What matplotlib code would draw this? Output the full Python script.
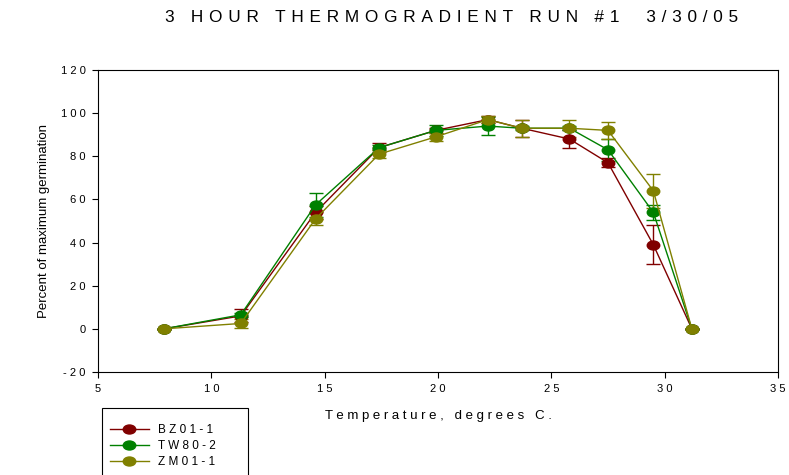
import numpy as np
import matplotlib
matplotlib.use("Agg")
import matplotlib.pyplot as plt
from matplotlib.path import Path
from matplotlib.lines import Line2D
from matplotlib.patches import Rectangle

plt.rcParams['font.family'] = ['Liberation Sans', 'DejaVu Sans']

# temperatures (deg C) and % of maximum germination
temps = [7.9, 11.3, 14.6, 17.4, 19.9, 22.2, 23.7, 25.8, 27.5, 29.5, 31.2]

bz01 = [0, 6, 54, 84, 92, 97, 93, 88, 77, 39, 0]
bz01_err = [0, 3, 3, 2, 1, 1.5, 4, 4, 2, 9, 0]

tw80 = [0, 6.5, 57.5, 84, 92, 94, 93, 93, 83, 54, 0]
tw80_err = [0, 1, 5.5, 1, 2.5, 4, 1, 1, 5, 3.5, 0]

zm01 = [0, 2.5, 51, 81, 89, 97, 93, 93, 92, 64, 0]
zm01_err = [0, 2, 3, 2, 2, 1.5, 4, 4, 4, 8, 0]

series_names = ['BZ01-1', 'TW80-2', 'ZM01-1']
colors = ['#800000', '#008000', '#808000']

xticks = [5, 10, 15, 20, 25, 30, 35]
yticks = [-20, 0, 20, 40, 60, 80, 100, 120]


def spaced(s, sep=' '):
    # the original uses wide letter spacing everywhere
    return sep.join(s)


# slightly flattened circle marker
circ = Path.unit_circle()
ellipse = Path(circ.vertices * np.array([1.0, 0.72]), circ.codes)

fig = plt.figure(figsize=(7.89, 4.75), dpi=100)
ax = fig.add_axes([98 / 789, 1 - 372 / 475, 680 / 789, 302 / 475])

handles = []
for name, vals, errs, c in zip(series_names, [bz01, tw80, zm01],
                               [bz01_err, tw80_err, zm01_err], colors):
    ax.errorbar(temps, vals, yerr=errs, color=c, lw=1.0, marker=ellipse,
                markersize=9, markeredgecolor=c, markerfacecolor=c,
                capsize=5, elinewidth=1.0, capthick=1.0)
    handles.append(Line2D([], [], color=c, lw=1.0, marker=ellipse,
                          markersize=9, markerfacecolor=c,
                          markeredgecolor=c, label=spaced(name)))

ax.set_xlim(5, 35)
ax.set_ylim(-20, 120)
ax.set_xticks(xticks)
ax.set_yticks(yticks)
ax.set_xticklabels([spaced(str(t)) for t in xticks], fontsize=8)
ax.set_yticklabels([spaced(str(t)) for t in yticks], fontsize=8)
ax.tick_params(direction='out', length=4, width=0.8, pad=5)
for s in ax.spines.values():
    s.set_linewidth(0.8)

ax.set_xlabel(spaced('Temperature, degrees C.'), fontsize=9.5, labelpad=11)
ax.set_ylabel('Percent of maximum germination', fontsize=9.5, labelpad=8)

fig.text(452 / 789, 1 - 18 / 475,
         spaced('3 HOUR THERMOGRADIENT RUN #1  3/30/05', '\u2004'),
         ha='center', va='center', fontsize=12.4)

# legend box runs off the bottom of the figure in the original
fig.patches.append(Rectangle((102 / 789, -0.05), 146 / 789, 0.05 + 67 / 475,
                             transform=fig.transFigure, fill=False,
                             edgecolor='black', lw=0.8))
fig.legend(handles=handles, loc='upper left',
           bbox_to_anchor=(110 / 789, 1 - 424 / 475),
           fontsize=8.5, frameon=False, handlelength=3.3,
           labelspacing=0.35, borderpad=0, handletextpad=0.8,
           borderaxespad=0)

fig.savefig('out.png', dpi=100)
